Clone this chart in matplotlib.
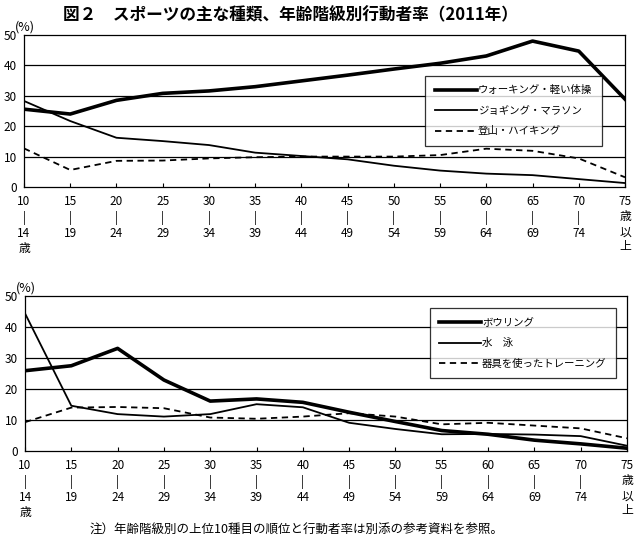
import matplotlib
matplotlib.use("Agg")
import matplotlib.pyplot as plt

plt.rcParams['font.family'] = ['Noto Sans CJK JP', 'DejaVu Sans']

# age groups
ages = ['10', '15', '20', '25', '30', '35', '40', '45', '50', '55', '60', '65', '70', '75']
ages_end = ['14', '19', '24', '29', '34', '39', '44', '49', '54', '59', '64', '69', '74', '']

# top chart
walking = [25.6, 24.0, 28.5, 30.8, 31.6, 33.0, 34.9, 36.8, 38.8, 40.7, 43.1, 48.0, 44.7, 28.9]
jogging = [28.3, 21.7, 16.2, 15.1, 13.8, 11.3, 10.2, 9.1, 7.0, 5.4, 4.4, 3.9, 2.6, 1.3]
hiking = [12.7, 5.6, 8.6, 8.7, 9.4, 9.8, 10.0, 10.0, 10.0, 10.5, 12.6, 11.9, 9.4, 3.2]

# bottom chart
bowling = [25.9, 27.5, 33.1, 22.9, 16.1, 16.8, 15.7, 12.5, 9.5, 6.6, 5.4, 3.5, 2.3, 0.9]
swimming = [44.4, 14.6, 11.9, 11.1, 11.9, 15.1, 14.1, 9.1, 7.1, 5.4, 5.5, 5.3, 4.8, 1.7]
training = [9.3, 14.0, 14.2, 13.8, 10.8, 10.4, 11.1, 12.2, 11.1, 8.6, 9.1, 8.2, 7.3, 4.1]

top_names = ['ウォーキング・軽い体操', 'ジョギング・マラソン', '登山・ハイキング']
bottom_names = ['ボウリング', '水　泳', '器具を使ったトレーニング']

labels = []
for i in range(len(ages)):
    if i == 0:
        labels.append(ages[i] + '\n|\n' + ages_end[i] + '\n歳')
    elif i == len(ages) - 1:
        labels.append(ages[i] + '\n歳\n以\n上')
    else:
        labels.append(ages[i] + '\n|\n' + ages_end[i])

W, H = 641, 543
fig = plt.figure(figsize=(W / 100, H / 100), dpi=100)

def make_axes(left, top, right, bottom):
    return fig.add_axes([left / W, 1 - bottom / H, (right - left) / W, (bottom - top) / H])

def draw(ax, series, names, legend_box):
    x = list(range(len(ages)))
    ax.plot(x, series[0], color='black', lw=2.6, label=names[0])
    ax.plot(x, series[1], color='black', lw=1.3, label=names[1])
    ax.plot(x, series[2], color='black', lw=1.3, ls=(0, (3.5, 2.5)), label=names[2])
    ax.set_xlim(0, len(ages) - 1)
    ax.set_ylim(0, 50)
    ax.set_yticks([0, 10, 20, 30, 40, 50])
    for v in [10, 20, 30, 40]:
        ax.axhline(v, color='black', lw=0.9, zorder=0)
    ax.set_xticks(x)
    ax.set_xticklabels(labels, fontsize=8.5, linespacing=1.2, va='top')
    ax.tick_params(axis='x', direction='in', length=3, width=0.8, pad=6)
    ax.tick_params(axis='y', length=0, labelsize=8.5, pad=5)
    for s in ax.spines.values():
        s.set_linewidth(0.9)
    ax.text(-0.015, 1.01, '(%)', transform=ax.transAxes, fontsize=9, ha='left', va='bottom')
    leg = ax.legend(loc='upper left', bbox_to_anchor=legend_box, fontsize=7.5, frameon=True,
                    fancybox=False, edgecolor='black', handlelength=4.0, handletextpad=0.15,
                    labelspacing=1.0, borderpad=0.9, borderaxespad=0)
    leg.get_frame().set_linewidth(0.9)
    leg.get_frame().set_facecolor('white')

ax1 = make_axes(24, 35, 625, 187)
draw(ax1, [walking, jogging, hiking], top_names, (0.668, 0.73))

ax2 = make_axes(25, 296, 627, 451)
draw(ax2, [bowling, swimming, training], bottom_names, (0.672, 0.92))

fig.text(290 / W, 1 - 15 / H, '図２　スポーツの主な種類、年齢階級別行動者率（2011年）',
         fontsize=12, fontweight='bold', ha='center', va='center')
fig.text(90 / W, 1 - 530 / H, '注）年齢階級別の上位10種目の順位と行動者率は別添の参考資料を参照。',
         fontsize=9, ha='left', va='center')

fig.savefig('out.png', dpi=100)
